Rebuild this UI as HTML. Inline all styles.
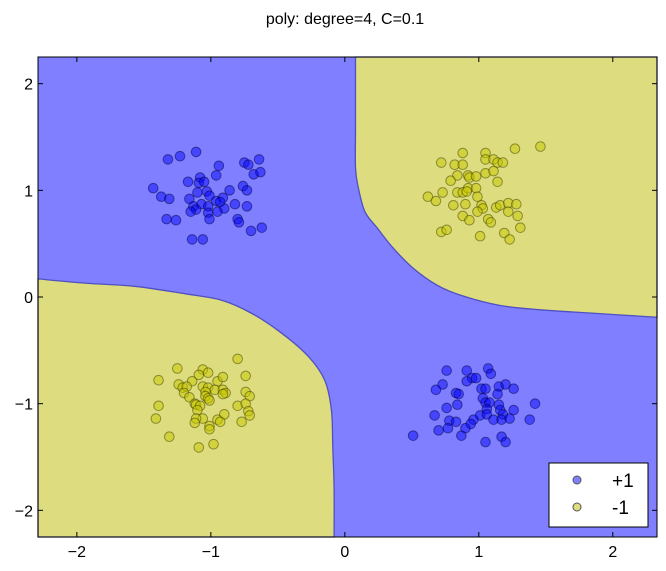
<!DOCTYPE html>
<html><head><meta charset="utf-8"><style>
html,body{margin:0;padding:0;background:#fff;}
svg{display:block;font-family:"Liberation Sans","DejaVu Sans",sans-serif;}
</style></head><body>
<svg id="chart" width="666" height="571">
<text x="345" y="24" text-anchor="middle" font-size="16" fill="#000">poly: degree=4, C=0.1</text>
<g id="plot"></g>
<g id="axes"></g>
</svg>
<script>
const xDomain=[-2.29,2.33], yDomain=[-2.25,2.25];
const xTicks=[-2,-1,0,1,2], yTicks=[-2,-1,0,1,2];
const boundaryTR=[[0.08,2.25],[0.08,1.6],[0.08,1.21],[0.10,1.03],[0.15,0.80],[0.24,0.65],[0.36,0.46],[0.51,0.27],[0.69,0.11],[0.88,0.01],[1.16,-0.08],[1.46,-0.12],[1.83,-0.15],[2.33,-0.19]];
const boundaryBL=[[-2.29,0.17],[-1.94,0.13],[-1.57,0.10],[-1.19,0.03],[-0.92,-0.03],[-0.70,-0.15],[-0.47,-0.34],[-0.27,-0.56],[-0.15,-0.78],[-0.10,-1.06],[-0.09,-1.41],[-0.08,-1.8],[-0.08,-2.25]];
const posX=[-1.32,-1.23,-1.11,-1.43,-1.37,-1.31,-1.17,-1.08,-1.09,-1.05,-0.94,-0.96,-0.75,-0.72,-0.64,-0.68,-0.63,-1.10,-1.03,-0.86,-0.76,-0.73,-1.16,-1.01,-0.96,-0.91,-1.07,-1.13,-1.11,-1.15,-1.02,-0.93,-0.90,-0.95,-1.02,-1.01,-0.82,-0.73,-0.80,-0.79,-1.33,-1.26,-0.70,-0.62,-1.14,-1.06,
0.76,0.91,1.07,1.09,0.95,0.98,0.91,0.73,0.68,0.83,0.85,1.02,1.05,1.15,1.20,1.26,1.14,1.03,1.05,0.84,0.76,1.08,1.15,1.42,1.06,1.16,1.26,0.67,1.01,1.06,1.18,1.11,1.17,1.23,1.38,0.78,0.83,0.96,0.94,0.77,0.70,0.90,0.87,0.51,1.05,1.17,1.20];
const posY=[1.29,1.32,1.36,1.02,0.94,0.92,1.08,1.12,1.07,1.08,1.23,1.14,1.26,1.24,1.29,1.15,1.17,0.98,0.99,1.00,1.04,1.00,0.92,0.95,0.90,0.93,0.87,0.85,0.82,0.80,0.85,0.89,0.83,0.80,0.79,0.73,0.87,0.85,0.73,0.70,0.73,0.72,0.62,0.65,0.54,0.54,
-0.69,-0.69,-0.67,-0.72,-0.76,-0.76,-0.79,-0.82,-0.87,-0.90,-0.91,-0.86,-0.86,-0.84,-0.82,-0.86,-0.91,-0.95,-0.99,-1.01,-1.04,-0.99,-1.01,-1.00,-1.05,-1.06,-1.06,-1.11,-1.11,-1.10,-1.10,-1.15,-1.15,-1.14,-1.15,-1.16,-1.17,-1.15,-1.19,-1.23,-1.25,-1.23,-1.30,-1.30,-1.36,-1.31,-1.36];
const negX=[0.88,1.05,1.27,1.46,0.72,0.82,0.88,1.05,1.11,1.14,1.18,0.84,0.92,0.93,0.98,1.05,1.11,0.79,1.14,0.73,0.84,0.88,0.92,0.98,0.91,0.62,0.68,0.99,0.81,0.90,1.02,1.03,0.99,1.13,1.16,1.22,1.28,1.22,1.29,0.88,0.93,1.07,1.09,1.31,0.72,0.76,1.19,1.23,1.01,
-0.80,-1.25,-1.06,-1.02,-1.09,-1.39,-1.14,-0.95,-0.91,-0.74,-1.24,-1.21,-1.18,-1.06,-1.02,-0.97,-0.91,-0.89,-0.91,-1.20,-1.04,-1.04,-1.16,-1.02,-1.01,-0.74,-0.71,-1.39,-1.12,-1.11,-1.08,-0.80,-0.74,-1.10,-0.72,-0.71,-0.90,-1.41,-1.06,-1.11,-0.95,-0.93,-1.12,-0.77,-1.01,-1.01,-1.31,-0.98,-1.09];
const negY=[1.35,1.35,1.39,1.41,1.26,1.24,1.24,1.29,1.29,1.26,1.26,1.14,1.14,1.12,1.13,1.16,1.18,1.09,1.08,0.98,0.98,0.98,1.02,1.02,0.99,0.94,0.90,0.94,0.86,0.87,0.86,0.83,0.80,0.84,0.86,0.88,0.87,0.80,0.76,0.76,0.72,0.73,0.70,0.65,0.61,0.63,0.60,0.54,0.57,
-0.58,-0.67,-0.68,-0.71,-0.73,-0.78,-0.79,-0.79,-0.75,-0.74,-0.82,-0.85,-0.84,-0.84,-0.85,-0.87,-0.87,-0.90,-0.91,-0.90,-0.89,-0.93,-0.94,-0.95,-0.97,-0.89,-0.93,-1.02,-1.00,-1.01,-1.02,-1.02,-1.00,-1.06,-1.07,-1.11,-1.10,-1.14,-1.14,-1.14,-1.15,-1.17,-1.18,-1.17,-1.21,-1.24,-1.31,-1.38,-1.41];

const L=38,R=657,T=57,B=537;
const sx=v=>L+(v-xDomain[0])/(xDomain[1]-xDomain[0])*(R-L);
const sy=v=>B-(v-yDomain[0])/(yDomain[1]-yDomain[0])*(B-T);
const NS="http://www.w3.org/2000/svg";
const plot=document.getElementById('plot'), axes=document.getElementById('axes');
function mk(tag,attrs,parent){const e=document.createElementNS(NS,tag);for(const k in attrs)e.setAttribute(k,attrs[k]);parent.appendChild(e);return e;}
function smooth(pts){
  const p=pts.map(q=>[sx(q[0]),sy(q[1])]);
  let s='M'+p[0][0].toFixed(1)+','+p[0][1].toFixed(1);
  for(let i=0;i<p.length-1;i++){
    const p0=p[Math.max(0,i-1)],p1=p[i],p2=p[i+1],p3=p[Math.min(p.length-1,i+2)];
    const c1=[p1[0]+(p2[0]-p0[0])/6,p1[1]+(p2[1]-p0[1])/6];
    const c2=[p2[0]-(p3[0]-p1[0])/6,p2[1]-(p3[1]-p1[1])/6];
    s+=' C'+c1[0].toFixed(1)+','+c1[1].toFixed(1)+' '+c2[0].toFixed(1)+','+c2[1].toFixed(1)+' '+p2[0].toFixed(1)+','+p2[1].toFixed(1);
  }
  return s;
}

const bg=mk('rect',{x:L,y:T,width:R-L,height:B-T,fill:'#7f7fff'},plot);



let d=smooth(boundaryTR)+' L'+R+','+T+' Z';
const r1=mk('path',{d:d,fill:'#dddd7f',stroke:'#5050c0','stroke-width':1.3},plot);


d=smooth(boundaryBL)+' L'+L+','+B+' Z';
const r2=mk('path',{d:d,fill:'#dddd7f',stroke:'#5050c0','stroke-width':1.3},plot);



for(let i=0;i<posX.length;i++){
  const c=mk('circle',{cx:sx(posX[i]),cy:sy(posY[i]),r:4.8,fill:'rgba(0,0,255,0.45)',stroke:'rgba(0,0,60,0.5)','stroke-width':1},plot);
  
  
}
for(let i=0;i<negX.length;i++){
  const c=mk('circle',{cx:sx(negX[i]),cy:sy(negY[i]),r:4.8,fill:'rgba(200,200,0,0.5)',stroke:'rgba(60,60,0,0.5)','stroke-width':1},plot);
  
  
}

const frame=mk('rect',{x:L,y:T,width:R-L,height:B-T,fill:'none',stroke:'#000','stroke-width':1},axes);


xTicks.forEach(v=>{
  const x=sx(v);
  mk('line',{x1:x,y1:B,x2:x,y2:B-5,stroke:'#000'},axes);
  mk('line',{x1:x,y1:T,x2:x,y2:T+5,stroke:'#000'},axes);
  const t=mk('text',{x:x,y:557,'text-anchor':'middle','font-size':16},axes);
  t.textContent=(v<0?'\u2212':'')+Math.abs(v);
  
  
});
yTicks.forEach(v=>{
  const y=sy(v);
  mk('line',{x1:L,y1:y,x2:L+5,y2:y,stroke:'#000'},axes);
  mk('line',{x1:R,y1:y,x2:R-5,y2:y,stroke:'#000'},axes);
  const t=mk('text',{x:33,y:y+6,'text-anchor':'end','font-size':16},axes);
  t.textContent=(v<0?'\u2212':'')+Math.abs(v);
  
  
});
</script>
<svg width="666" height="571" style="position:absolute;left:0;top:0">
<g font-family="Liberation Sans, DejaVu Sans, sans-serif">
<rect x="549" y="463" width="99" height="64" fill="#fff" stroke="#000"/>
<circle cx="577" cy="480" r="4" fill="#7f7fff" stroke="#555"/>
<text x="612" y="487" font-size="19">+1</text>
<circle cx="577" cy="507" r="4" fill="#dddd7f" stroke="#555"/>
<text x="612" y="514" font-size="19">-1</text>
</g></svg>
</body></html>
